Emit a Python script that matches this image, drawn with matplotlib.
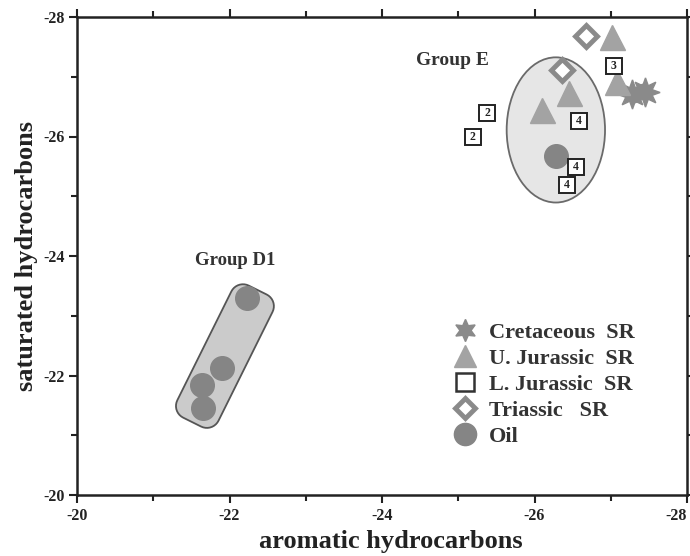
import numpy as np
import matplotlib
matplotlib.use("Agg")
import matplotlib.pyplot as plt
from matplotlib.patches import Ellipse, Polygon
from matplotlib.lines import Line2D
from matplotlib.ticker import MultipleLocator

plt.rcParams['font.family'] = ['Liberation Serif', 'DejaVu Serif']
plt.rcParams['font.weight'] = 'bold'
plt.rcParams['axes.unicode_minus'] = False

# ---- data (aromatic, saturated) ----
cret_x = [-27.28, -27.45]
cret_y = [-26.71, -26.74]

ujur_x = [-27.02, -27.08, -26.45, -26.10]
ujur_y = [-27.67, -26.91, -26.73, -26.44]

ljur_x = [-25.38, -25.19, -27.04, -26.58, -26.54, -26.43]
ljur_y = [-26.39, -25.99, -27.18, -26.26, -25.49, -25.19]
ljur_labels = ['2', '2', '3', '4', '4', '4']

tri_x = [-26.67, -26.36]
tri_y = [-27.68, -27.11]

oil_x = [-26.28, -22.23, -21.90, -21.64, -21.65]
oil_y = [-25.67, -23.30, -22.13, -21.84, -21.46]

# group outlines
groupE_center = (-26.28, -26.11)
groupE_size = (1.29, 2.43)
groupD1_ends = [(-22.37, -23.43), (-21.51, -21.22)]

xticks = [-20, -22, -24, -26, -28]
yticks = [-20, -22, -24, -26, -28]

fig = plt.figure(figsize=(6.9, 5.56), dpi=100)
ax = fig.add_axes([77/690, 61/556, 610/690, 478/556])
ax.set_xlim(-20, -28)
ax.set_ylim(-20, -28)

ax.xaxis.set_minor_locator(MultipleLocator(1))
ax.yaxis.set_minor_locator(MultipleLocator(1))
ax.set_xticks(xticks)
ax.set_yticks(yticks)
ax.set_xticklabels([str(t) for t in xticks])
ax.set_yticklabels([str(t) for t in yticks])
ax.tick_params(which='both', direction='out', top=True, right=True,
               width=1.5, color='#222222', labelsize=11.5, pad=3)
ax.tick_params(which='major', length=6)
ax.tick_params(which='minor', length=4)
for lab in ax.get_xticklabels() + ax.get_yticklabels():
    lab.set_fontweight('bold')
    lab.set_color('#222222')
ax.get_xticklabels()[-1].set_horizontalalignment('right')
for s in ax.spines.values():
    s.set_linewidth(1.8)
    s.set_color('#222222')

ax.set_xlabel('aromatic hydrocarbons', fontsize=19, fontweight='bold', color='#222222')
ax.xaxis.set_label_coords(0.515, -0.073)
ax.set_ylabel('saturated hydrocarbons', fontsize=19, fontweight='bold', labelpad=4,
              color='#222222')

# Group E ellipse
ell = Ellipse(groupE_center, groupE_size[0], groupE_size[1], facecolor='#e6e6e6',
              edgecolor='#6a6a6a', linewidth=1.3, zorder=1)
ax.add_patch(ell)

# Group D1 rounded capsule (built in display space)
fig.canvas.draw()
p0 = ax.transData.transform(groupD1_ends[0])
p1 = ax.transData.transform(groupD1_ends[1])
axis_v = p0 - p1
L = np.linalg.norm(axis_v)
u = axis_v / L
n = np.array([-u[1], u[0]])
hw = 23.0
r = 13.0
center = (p0 + p1) / 2
pts = []
corners = [(L/2 - r, hw - r, 0), (-L/2 + r, hw - r, 90), (-L/2 + r, -hw + r, 180), (L/2 - r, -hw + r, 270)]
for cx, cy, a0 in corners:
    for a in np.linspace(np.radians(a0), np.radians(a0 + 90), 10):
        lx = cx + r*np.cos(a)
        ly = cy + r*np.sin(a)
        pts.append(center + lx*u + ly*n)
pts = np.array(pts)
cap = Polygon(pts, closed=True, transform=None, facecolor='#cbcbcb',
              edgecolor='#555555', linewidth=1.3, zorder=1)
ax.add_artist(cap)

# markers
ax.plot(cret_x, cret_y, linestyle='none', marker=(8, 1, 0), markersize=21,
        color='#8a8a8a', zorder=3)
ax.plot(ujur_x, ujur_y, linestyle='none', marker='^', markersize=18,
        color='#a3a3a3', zorder=3)
ax.plot(oil_x, oil_y, linestyle='none', marker='o', markersize=17,
        color='#858585', zorder=3)
ax.plot(tri_x, tri_y, linestyle='none', marker='D', markersize=11,
        markerfacecolor='white', markeredgecolor='#8a8a8a', markeredgewidth=3.5, zorder=4)
ax.plot(ljur_x, ljur_y, linestyle='none', marker='s', markersize=11.5,
        markerfacecolor='white', markeredgecolor='#222222', markeredgewidth=1.4, zorder=5)
for x, y, t in zip(ljur_x, ljur_y, ljur_labels):
    ax.text(x, y, t, ha='center', va='center', fontsize=8.5, fontweight='bold',
            color='#222222', zorder=6)

ax.text(-24.93, -27.28, 'Group E', fontsize=14, fontweight='bold', ha='center', va='center',
        color='#333333')
ax.text(-22.08, -23.92, 'Group D1', fontsize=13.5, fontweight='bold', ha='center', va='center',
        color='#333333')

handles = [
    Line2D([], [], linestyle='none', marker=(6, 1, 0), markersize=16, color='#8a8a8a'),
    Line2D([], [], linestyle='none', marker='^', markersize=16, color='#a3a3a3'),
    Line2D([], [], linestyle='none', marker='s', markersize=13, markerfacecolor='white',
           markeredgecolor='#333333', markeredgewidth=1.8),
    Line2D([], [], linestyle='none', marker='D', markersize=10, markerfacecolor='white',
           markeredgecolor='#8a8a8a', markeredgewidth=3.5),
    Line2D([], [], linestyle='none', marker='o', markersize=16, color='#858585'),
]
labels = ['Cretaceous  SR', 'U. Jurassic  SR', 'L. Jurassic  SR', 'Triassic   SR', 'Oil']
leg = ax.legend(handles, labels, loc='upper left', bbox_to_anchor=(0.593, 0.393),
                frameon=False, prop={'family': 'Liberation Serif', 'weight': 'bold', 'size': 16},
                handlelength=1.0, handletextpad=0.55, labelspacing=0.24, borderpad=0.2)
for t in leg.get_texts():
    t.set_color('#333333')

fig.savefig('out.png', dpi=100)
